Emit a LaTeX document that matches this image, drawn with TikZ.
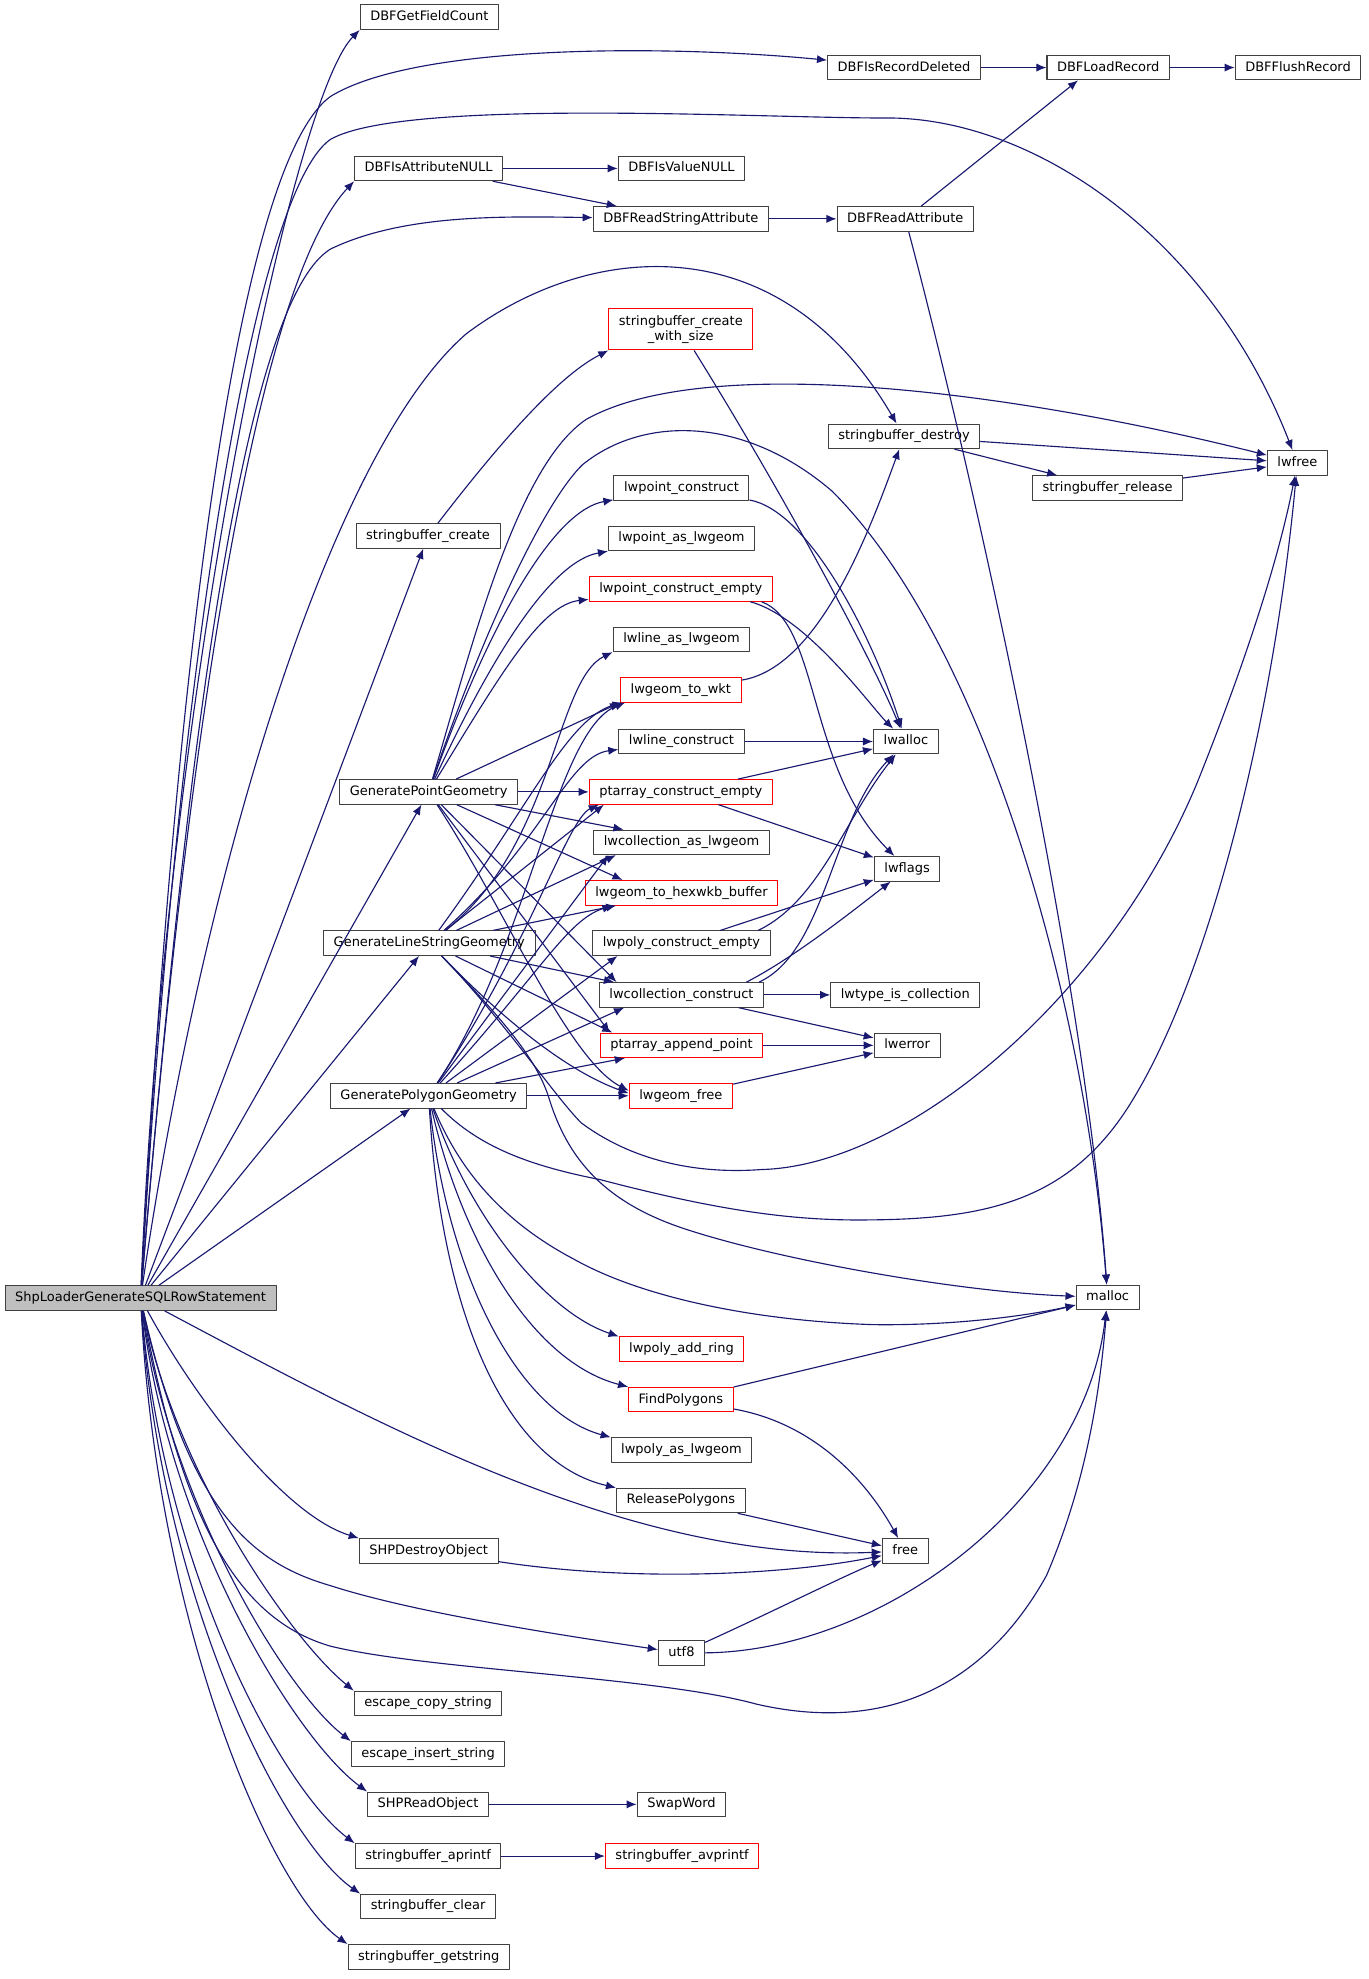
\documentclass[tikz,border=0pt]{standalone}
\usepackage{fontspec}
\setmainfont{DejaVu Sans}
\usetikzlibrary{arrows.meta}
\definecolor{edgeblue}{RGB}{25,25,112}
\definecolor{boxgray}{RGB}{64,64,64}
\definecolor{rootfill}{RGB}{191,191,191}
\tikzset{
  fn/.style={draw=boxgray,line width=0.8bp,fill=white,font=\fontsize{10.3bp}{12bp}\selectfont,
    inner xsep=8bp,inner ysep=0bp,minimum height=19.5bp,text height=8bp,text depth=2.5bp},
  fnred/.style={fn,draw=red},
  fnroot/.style={fn,fill=rootfill},
  edge/.style={edgeblue,line width=0.9bp,->},
}
\begin{document}
\begin{tikzpicture}[>={Latex[length=8bp,width=6.5bp]},line join=bevel,]
\useasboundingbox (0bp,0bp) rectangle (1085bp,1569.6bp);
%%
\node (node_root) at (111.5bp,540bp) [fnroot] {ShpLoaderGenerateSQLRowStatement};
  \node (node_dbfgetfieldcount) at (340.5bp,1556bp) [fn] {DBFGetFieldCount};
  \node (node_dbfisrecorddeleted) at (717bp,1516bp) [fn] {DBFIsRecordDeleted};
  \node (node_dbfloadrecord) at (879bp,1516bp) [fn] {DBFLoadRecord};
  \node (node_dbfflushrecord) at (1029.5bp,1516bp) [fn] {DBFFlushRecord};
  \node (node_dbfisattributenull) at (340bp,1436bp) [fn] {DBFIsAttributeNULL};
  \node (node_dbfisvaluenull) at (540.5bp,1436bp) [fn] {DBFIsValueNULL};
  \node (node_dbfreadstringattribute) at (540bp,1396bp) [fn] {DBFReadStringAttribute};
  \node (node_dbfreadattribute) at (718bp,1396bp) [fn] {DBFReadAttribute};
  \node (node_sbcreatewithsize) at (540bp,1308.5bp) [fnred,align=center,minimum height=33bp,text height=20bp,text depth=2.5bp] {stringbuffer\_create\\\_with\_size};
  \node (node_sbdestroy) at (717bp,1223.5bp) [fn] {stringbuffer\_destroy};
  \node (node_lwfree) at (1029bp,1202.5bp) [fn] {lwfree};
  \node (node_sbrelease) at (878.5bp,1182.5bp) [fn] {stringbuffer\_release};
  \node (node_lwpointconstruct) at (540.5bp,1182.5bp) [fn] {lwpoint\_construct};
  \node (node_sbcreate) at (339.5bp,1144.5bp) [fn] {stringbuffer\_create};
  \node (node_lwpointaslwgeom) at (540.5bp,1142.5bp) [fn] {lwpoint\_as\_lwgeom};
  \node (node_lwpointconstructempty) at (540bp,1102.5bp) [fnred] {lwpoint\_construct\_empty};
  \node (node_lwlineaslwgeom) at (540.5bp,1062.5bp) [fn] {lwline\_as\_lwgeom};
  \node (node_lwgeomtowkt) at (540bp,1022.5bp) [fnred] {lwgeom\_to\_wkt};
  \node (node_lwlineconstruct) at (540.5bp,981.5bp) [fn] {lwline\_construct};
  \node (node_lwalloc) at (718.5bp,981.5bp) [fn] {lwalloc};
  \node (node_genpoint) at (340bp,941.5bp) [fn] {GeneratePointGeometry};
  \node (node_ptarrayconstructempty) at (540bp,941.5bp) [fnred] {ptarray\_construct\_empty};
  \node (node_lwcollectionaslwgeom) at (540.5bp,901.5bp) [fn] {lwcollection\_as\_lwgeom};
  \node (node_lwflags) at (719.5bp,880.5bp) [fn] {lwflags};
  \node (node_lwgeomtohexwkb) at (540.5bp,861.5bp) [fnred] {lwgeom\_to\_hexwkb\_buffer};
  \node (node_genline) at (340.5bp,821.5bp) [fn] {GenerateLineStringGeometry};
  \node (node_lwpolyconstructempty) at (540.5bp,821.5bp) [fn] {lwpoly\_construct\_empty};
  \node (node_lwcollectionconstruct) at (540.5bp,780.5bp) [fn] {lwcollection\_construct};
  \node (node_lwtypeiscollection) at (718bp,780.5bp) [fn] {lwtype\_is\_collection};
  \node (node_ptarrayappendpoint) at (540.5bp,740.5bp) [fnred] {ptarray\_append\_point};
  \node (node_lwerror) at (719.5bp,740.5bp) [fn] {lwerror};
  \node (node_genpoly) at (340bp,700.5bp) [fn] {GeneratePolygonGeometry};
  \node (node_lwgeomfree) at (540bp,700.5bp) [fnred] {lwgeom\_free};
  \node (node_malloc) at (878.5bp,540.5bp) [fn] {malloc};
  \node (node_lwpolyaddring) at (540.5bp,499.5bp) [fnred] {lwpoly\_add\_ring};
  \node (node_findpolygons) at (540bp,459.5bp) [fnred] {FindPolygons};
  \node (node_lwpolyaslwgeom) at (540.5bp,419.5bp) [fn] {lwpoly\_as\_lwgeom};
  \node (node_releasepolygons) at (540bp,379.5bp) [fn] {ReleasePolygons};
  \node (node_shpdestroyobject) at (340bp,339.5bp) [fn] {SHPDestroyObject};
  \node (node_free) at (718bp,339.5bp) [fn] {free};
  \node (node_utf8) at (540.5bp,258.5bp) [fn] {utf8};
  \node (node_escapecopystring) at (339.5bp,218.5bp) [fn] {escape\_copy\_string};
  \node (node_escapeinsertstring) at (339.5bp,178.5bp) [fn] {escape\_insert\_string};
  \node (node_shpreadobject) at (339.5bp,138.5bp) [fn] {SHPReadObject};
  \node (node_swapword) at (540.5bp,138.5bp) [fn] {SwapWord};
  \node (node_sbaprintf) at (339.5bp,97.5bp) [fn] {stringbuffer\_aprintf};
  \node (node_sbavprintf) at (541bp,97.5bp) [fnred] {stringbuffer\_avprintf};
  \node (node_sbclear) at (339.5bp,57.5bp) [fn] {stringbuffer\_clear};
  \node (node_sbgetstring) at (340bp,17.5bp) [fn] {stringbuffer\_getstring};
%
  \draw [edge] (node_root) ..controls (130bp,1000bp) and (230bp,1490bp)  .. (node_dbfgetfieldcount.south west);
  \draw [edge] (node_root) ..controls (140bp,1060bp) and (190bp,1440bp)  .. (262bp,1493bp) ..controls (330bp,1535bp) and (530bp,1534bp)  .. (node_dbfisrecorddeleted);
  \draw [edge] (node_root) ..controls (140bp,1030bp) and (200bp,1415bp)  .. (262bp,1459bp) ..controls (320bp,1492bp) and (600bp,1476bp)  .. (700bp,1476bp) ..controls (820bp,1478bp) and (960bp,1380bp)  .. (node_lwfree);
  \draw [edge] (node_root) ..controls (145bp,950bp) and (200bp,1340bp)  .. (node_dbfisattributenull.south west);
  \draw [edge] (node_root) ..controls (150bp,1000bp) and (195bp,1330bp)  .. (262bp,1372bp) ..controls (320bp,1400bp) and (400bp,1398bp)  .. (node_dbfreadstringattribute);
  \draw [edge] (node_root) ..controls (160bp,870bp) and (260bp,1210bp)  .. (370bp,1305bp) ..controls (470bp,1380bp) and (620bp,1390bp)  .. (node_sbdestroy);
  \draw [edge] (node_root) -- (node_sbcreate);
  \draw [edge] (node_root) -- (node_genpoint);
  \draw [edge] (node_root) -- (node_genline);
  \draw [edge] (node_root) -- (node_genpoly);
  \draw [edge] (node_root) ..controls (300bp,440bp) and (500bp,330bp)  .. (node_free);
  \draw [edge] (node_root) ..controls (155bp,460bp) and (225bp,368bp)  .. (node_shpdestroyobject.north west);
  \draw [edge] (node_root) ..controls (150bp,370bp) and (200bp,330bp)  .. (262bp,312bp) ..controls (330bp,290bp) and (450bp,272bp)  .. (node_utf8);
  \draw [edge] (node_root) ..controls (145bp,360bp) and (190bp,285bp)  .. (262bp,264bp) ..controls (340bp,245bp) and (520bp,240bp)  .. (600bp,218bp) ..controls (700bp,195bp) and (780bp,230bp)  .. (830bp,320bp) ..controls (860bp,390bp) and (872bp,460bp)  .. (node_malloc);
  \draw [edge] (node_root) ..controls (140bp,400bp) and (230bp,270bp)  .. (node_escapecopystring.north west);
  \draw [edge] (node_root) ..controls (135bp,380bp) and (225bp,230bp)  .. (node_escapeinsertstring.north west);
  \draw [edge] (node_root) ..controls (135bp,350bp) and (235bp,190bp)  .. (node_shpreadobject.north west);
  \draw [edge] (node_root) ..controls (130bp,320bp) and (225bp,150bp)  .. (node_sbaprintf.north west);
  \draw [edge] (node_root) ..controls (128bp,300bp) and (225bp,110bp)  .. (node_sbclear.north west);
  \draw [edge] (node_root) ..controls (125bp,280bp) and (215bp,70bp)  .. (node_sbgetstring.north west);
%
  \draw [edge] (node_dbfisrecorddeleted) -- (node_dbfloadrecord);
  \draw [edge] (node_dbfloadrecord) -- (node_dbfflushrecord);
  \draw [edge] (node_dbfisattributenull) -- (node_dbfisvaluenull);
  \draw [edge] (node_dbfisattributenull) -- (node_dbfreadstringattribute);
  \draw [edge] (node_dbfreadstringattribute) -- (node_dbfreadattribute);
  \draw [edge] (node_dbfreadattribute) -- ([xshift=-24bp]node_dbfloadrecord.south);
  \draw [edge] (node_dbfreadattribute) ..controls (770bp,1200bp) and (860bp,800bp)  .. (node_malloc);
  \draw [edge] (node_sbcreate) ..controls (390bp,1210bp) and (440bp,1270bp)  .. (node_sbcreatewithsize.south west);
  \draw [edge] (node_sbcreatewithsize) ..controls (620bp,1180bp) and (690bp,1050bp)  .. (node_lwalloc);
  \draw [edge] (node_sbdestroy) -- (node_lwfree);
  \draw [edge] (node_sbdestroy) -- (node_sbrelease);
  \draw [edge] (node_sbrelease) -- (node_lwfree);
  \draw [edge] (node_lwpointconstruct) ..controls (640bp,1165bp) and (690bp,1070bp)  .. (node_lwalloc);
  \draw [edge] ([xshift=-18bp]node_lwpointconstructempty.south east) ..controls (640bp,1080bp) and (690bp,1010bp)  .. (node_lwalloc);
  \draw [edge] ([xshift=-9bp]node_lwpointconstructempty.south east) ..controls (650bp,1075bp) and (640bp,960bp)  .. (node_lwflags);
  \draw [edge] (node_lwgeomtowkt) ..controls (650bp,1040bp) and (690bp,1150bp)  .. (node_sbdestroy);
  \draw [edge] (node_lwlineconstruct) -- (node_lwalloc);
  \draw [edge] (node_ptarrayconstructempty) -- (node_lwalloc);
  \draw [edge] (node_ptarrayconstructempty) -- (node_lwflags);
  \draw [edge] (node_lwpolyconstructempty) -- (node_lwflags);
  \draw [edge] ([xshift=-10bp]node_lwpolyconstructempty.north east) ..controls (650bp,855bp) and (670bp,920bp)  .. (node_lwalloc);
  \draw [edge] (node_lwcollectionconstruct) -- (node_lwtypeiscollection);
  \draw [edge] (node_lwcollectionconstruct) -- (node_lwerror);
  \draw [edge] ([xshift=-4bp]node_lwcollectionconstruct.north east) ..controls (655bp,815bp) and (660bp,920bp)  .. (node_lwalloc);
  \draw [edge] ([xshift=-14bp]node_lwcollectionconstruct.north east) ..controls (630bp,810bp) and (680bp,850bp)  .. (node_lwflags);
  \draw [edge] (node_ptarrayappendpoint) -- (node_lwerror);
  \draw [edge] (node_lwgeomfree) -- (node_lwerror);
  \draw [edge] (node_findpolygons) -- (node_malloc);
  \draw [edge] (node_findpolygons) ..controls (650bp,440bp) and (690bp,390bp)  .. (node_free);
  \draw [edge] (node_releasepolygons) -- (node_free);
  \draw [edge] (node_shpdestroyobject) ..controls (500bp,315bp) and (620bp,320bp)  .. (node_free);
  \draw [edge] (node_utf8) ..controls (610bp,290bp) and (670bp,320bp)  .. (node_free);
  \draw [edge] (node_utf8) ..controls (700bp,260bp) and (860bp,380bp)  .. (node_malloc);
  \draw [edge] (node_shpreadobject) -- (node_swapword);
  \draw [edge] (node_sbaprintf) -- (node_sbavprintf);
%
  \draw [edge] (node_genpoint) ..controls (375bp,1060bp) and (410bp,1200bp)  .. (465bp,1237bp) ..controls (560bp,1290bp) and (800bp,1260bp)  .. (node_lwfree);
  \draw [edge] (node_genpoint) ..controls (380bp,1060bp) and (430bp,1170bp)  .. (462bp,1201bp) ..controls (510bp,1240bp) and (590bp,1240bp)  .. (660bp,1180bp) ..controls (780bp,1060bp) and (860bp,780bp)  .. (node_malloc);
  \draw [edge] (node_genpoint) ..controls (390bp,1080bp) and (440bp,1165bp)  .. (node_lwpointconstruct);
  \draw [edge] (node_genpoint) ..controls (395bp,1060bp) and (440bp,1125bp)  .. (node_lwpointaslwgeom);
  \draw [edge] (node_genpoint) ..controls (400bp,1040bp) and (430bp,1090bp)  .. (node_lwpointconstructempty);
  \draw [edge] (node_genpoint) -- (node_lwgeomtowkt.south west);
  \draw [edge] (node_genpoint) -- (node_ptarrayconstructempty);
  \draw [edge] (node_genpoint) -- ([xshift=24bp]node_lwcollectionaslwgeom.north west);
  \draw [edge] (node_genpoint) -- ([xshift=30bp]node_lwgeomtohexwkb.north west);
  \draw [edge] (node_genpoint) -- ([xshift=14bp]node_lwcollectionconstruct.north west);
  \draw [edge] (node_genpoint) -- ([xshift=8bp]node_ptarrayappendpoint.north west);
  \draw [edge] (node_genpoint) ..controls (400bp,850bp) and (450bp,730bp)  .. ([yshift=4bp]node_lwgeomfree.west);
%
  \draw [edge] (node_genline) ..controls (440bp,900bp) and (440bp,1030bp)  .. (node_lwlineaslwgeom.south west);
  \draw [edge] (node_genline) ..controls (420bp,930bp) and (450bp,1000bp)  .. ([xshift=2bp]node_lwgeomtowkt.south west);
  \draw [edge] (node_genline) ..controls (430bp,900bp) and (450bp,970bp)  .. (node_lwlineconstruct);
  \draw [edge] (node_genline) -- ([xshift=12bp]node_ptarrayconstructempty.south west);
  \draw [edge] (node_genline) -- ([xshift=18bp]node_lwcollectionaslwgeom.south west);
  \draw [edge] (node_genline) -- ([xshift=25bp]node_lwgeomtohexwkb.south west);
  \draw [edge] (node_genline) -- ([xshift=12bp]node_lwcollectionconstruct.north west);
  \draw [edge] (node_genline) -- ([xshift=10bp]node_ptarrayappendpoint.north west);
  \draw [edge] (node_genline) ..controls (400bp,760bp) and (450bp,720bp)  .. ([yshift=2bp]node_lwgeomfree.west);
  \draw [edge] (node_genline) ..controls (400bp,760bp) and (440bp,700bp)  .. (461bp,679bp) ..controls (500bp,650bp) and (550bp,638bp)  .. (604bp,642bp) ..controls (720bp,645bp) and (880bp,780bp)  .. (950bp,950bp) ..controls (990bp,1050bp) and (1015bp,1130bp)  .. (node_lwfree);
  \draw [edge] (node_genline) ..controls (400bp,760bp) and (425bp,730bp)  .. (435bp,700bp) ..controls (450bp,650bp) and (480bp,615bp)  .. (546bp,594bp) ..controls (620bp,570bp) and (760bp,545bp)  .. (node_malloc);
%
  \draw [edge] (node_genpoly) ..controls (420bp,820bp) and (440bp,990bp)  .. ([xshift=4bp]node_lwgeomtowkt.south west);
  \draw [edge] (node_genpoly) ..controls (420bp,820bp) and (450bp,920bp)  .. ([xshift=8bp]node_ptarrayconstructempty.south west);
  \draw [edge] (node_genpoly) -- ([xshift=12bp]node_lwcollectionaslwgeom.south west);
  \draw [edge] (node_genpoly) ..controls (430bp,800bp) and (450bp,840bp)  .. ([xshift=22bp]node_lwgeomtohexwkb.south west);
  \draw [edge] (node_genpoly) -- ([xshift=20bp]node_lwpolyconstructempty.south west);
  \draw [edge] (node_genpoly) -- ([xshift=20bp]node_lwcollectionconstruct.south west);
  \draw [edge] (node_genpoly) -- ([xshift=20bp]node_ptarrayappendpoint.south west);
  \draw [edge] (node_genpoly) -- (node_lwgeomfree);
  \draw [edge] (node_genpoly) ..controls (380bp,660bp) and (420bp,645bp)  .. (476bp,634bp) ..controls (560bp,612bp) and (620bp,602bp)  .. (680bp,602bp) ..controls (780bp,602bp) and (850bp,615bp)  .. (900bp,700bp) ..controls (960bp,800bp) and (1010bp,1000bp)  .. (node_lwfree);
  \draw [edge] (node_genpoly) ..controls (365bp,640bp) and (400bp,600bp)  .. (455bp,571bp) ..controls (510bp,540bp) and (600bp,522bp)  .. (692bp,519bp) ..controls (760bp,518bp) and (820bp,527bp)  .. (node_malloc);
  \draw [edge] (node_genpoly) ..controls (370bp,610bp) and (430bp,530bp)  .. (node_lwpolyaddring.north west);
  \draw [edge] (node_genpoly) ..controls (365bp,590bp) and (420bp,490bp)  .. (node_findpolygons.north west);
  \draw [edge] (node_genpoly) ..controls (355bp,560bp) and (410bp,450bp)  .. (node_lwpolyaslwgeom.north west);
  \draw [edge] (node_genpoly) ..controls (350bp,530bp) and (400bp,410bp)  .. (node_releasepolygons.north west);
%
\end{tikzpicture}
\end{document}
